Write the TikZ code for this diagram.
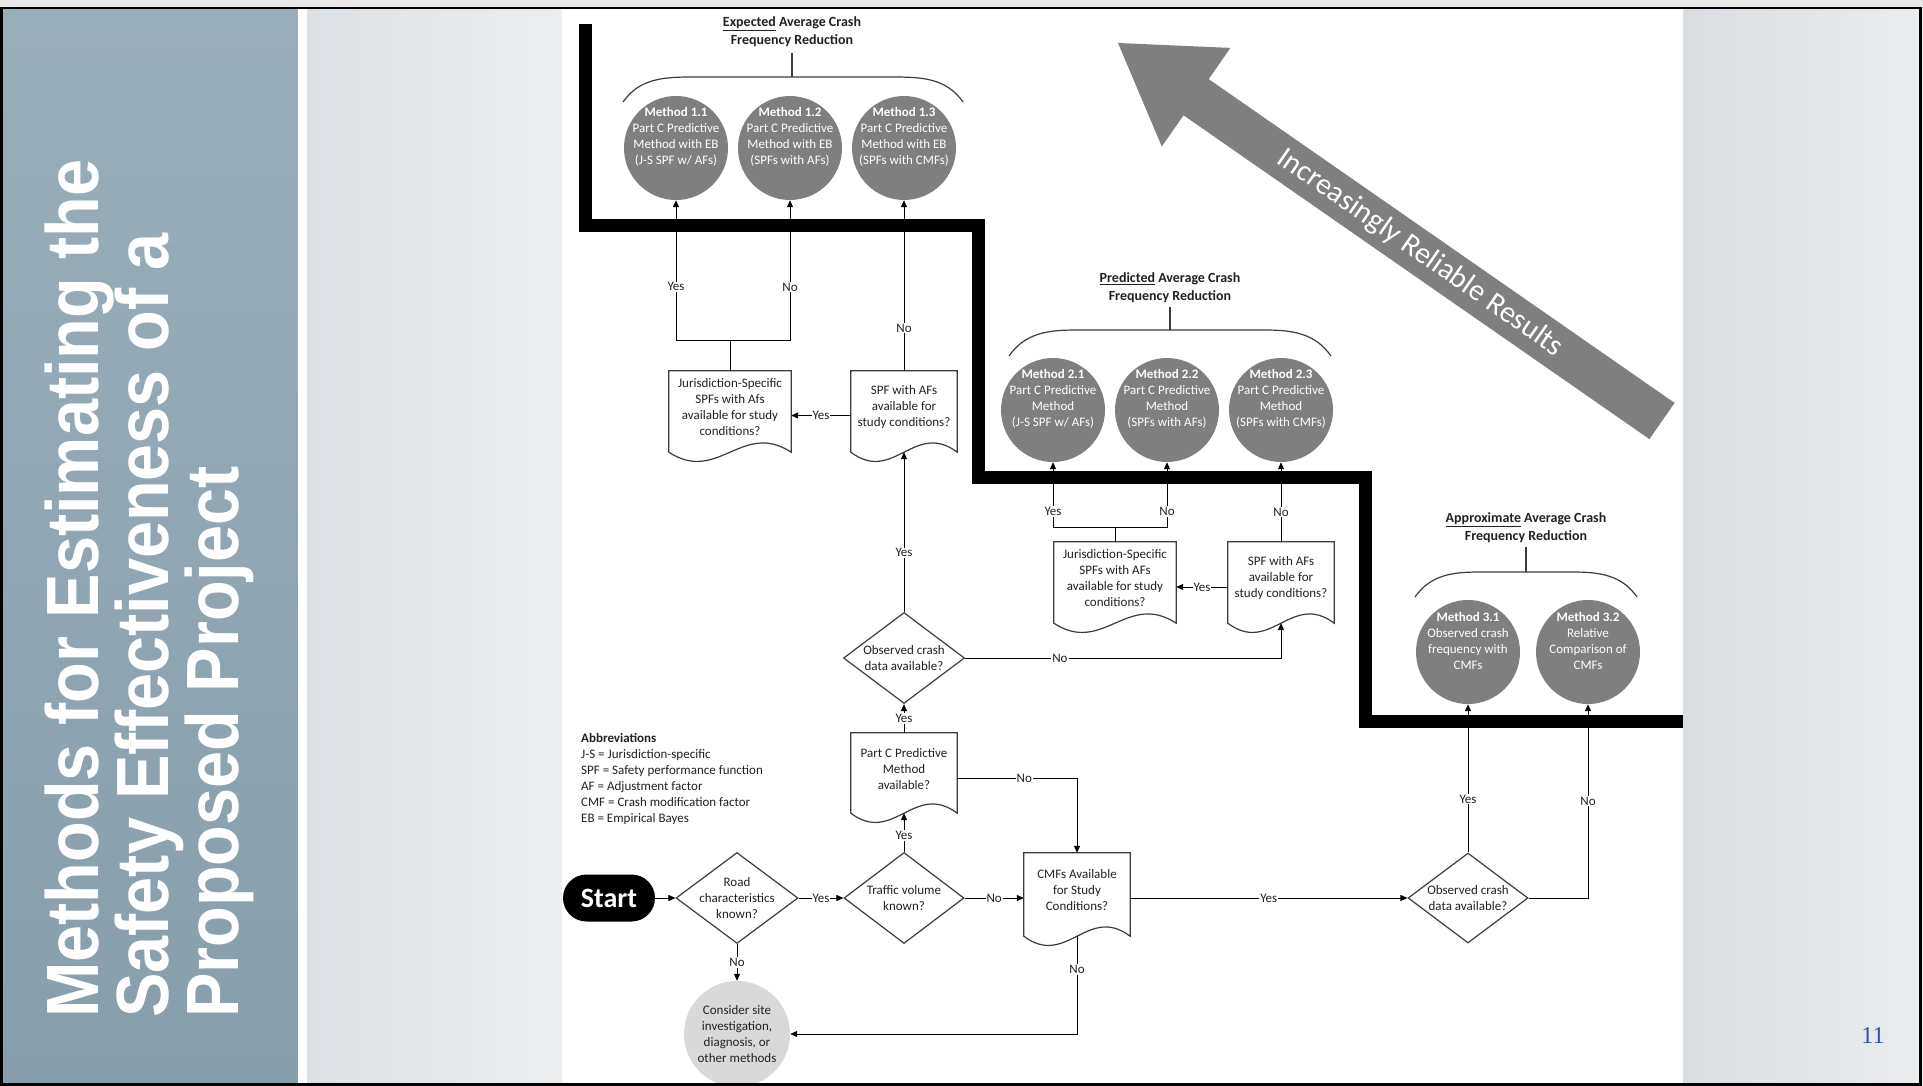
\documentclass[tikz,border=0pt]{standalone}
\usepackage{fontspec}
\setmainfont{Carlito}
\newfontfamily\titlefont{Liberation Sans}[FakeStretch=0.9]
\newfontfamily\numfont{Liberation Serif}
\usetikzlibrary{positioning,arrows.meta,shapes.geometric,calc}
\definecolor{panel}{HTML}{8FA5B2}
\definecolor{panelb}{HTML}{889EAB}
\definecolor{midl}{HTML}{DCE1E5}
\definecolor{midr}{HTML}{ECEEF0}
\definecolor{sidel}{HTML}{DADEE2}
\definecolor{sider}{HTML}{EAECEE}
\definecolor{txt}{HTML}{222222}
\definecolor{edge}{HTML}{3C3C3C}
\definecolor{methgray}{HTML}{7F7F7F}
\definecolor{ltgray}{HTML}{D9D9D9}
\definecolor{numblue}{HTML}{2F5597}
\newcommand{\bodyfont}{\fontsize{13}{16}\selectfont}
\newcommand{\headfont}{\fontsize{14}{18}\selectfont\bfseries}
% document outline with wavy bottom, drawn round a docbox node
\newcommand{\docframe}[1]{%
  \coordinate (#1-b) at ([yshift=-8pt]#1.south);
  \draw[docline] ([yshift=-8pt]#1.south east) -- (#1.north east) -- (#1.north west) -- ([yshift=-8pt]#1.south west)
    .. controls ($([yshift=-8pt]#1.south west)!0.4!([yshift=-8pt]#1.south east)+(0,32)$)
    and ($([yshift=-8pt]#1.south west)!0.6!([yshift=-8pt]#1.south east)+(0,-32)$) .. ([yshift=-8pt]#1.south east) -- cycle;}

\begin{document}
\begin{tikzpicture}[x=1pt,y=-1pt,
    docbox/.style={rectangle,inner sep=0pt,minimum height=73pt,align=center,font=\bodyfont,text=txt},
    docline/.style={draw=edge,line width=1.2pt},
    decide/.style={diamond,draw=edge,line width=1.2pt,inner sep=0pt,minimum width=121pt,minimum height=91pt},
    dtext/.style={align=center,font=\bodyfont,text=txt,inner sep=0pt},
    method/.style={circle,fill=methgray,minimum size=104pt,inner sep=0pt},
    mtext/.style={align=center,font=\bodyfont,text=white,inner sep=0pt,yshift=11pt},
    head/.style={align=center,font=\headfont,text=txt,inner sep=0pt},
    brace/.style={draw=edge,line width=1.2pt},
    arr/.style={-{Triangle[length=7pt,width=6pt]},line width=1pt},
    line/.style={line width=1pt},
    lbl/.style={font=\bodyfont,fill=white,inner sep=1pt,text=txt},
    stair/.style={line width=13pt},
  ]
  \useasboundingbox (0,0) rectangle (1923,1086);
  \clip (0,0) rectangle (1923,1086);
  % slide background
  \fill[ltgray!60] (0,0) rectangle (1923,8);
  \shade[top color=panel!90!white,bottom color=panelb] (0,8) rectangle (298,1086);
  \fill[white] (298,8) rectangle (307,1086);
  \shade[left color=midl,right color=midr] (307,8) rectangle (562,1086);
  \fill[white] (562,8) rectangle (1683,1086);
  \shade[left color=sidel,right color=sider] (1683,8) rectangle (1923,1086);
  \node[rotate=90,anchor=north west,align=left,inner sep=0pt,text=white,
    font=\titlefont\bfseries\fontsize{74}{70}\selectfont] (TT) at (45,1018)
    {Methods for Estimating the\\Safety Effectiveness of a\\Proposed Project};
  \node[font=\numfont\fontsize{24}{24}\selectfont,text=numblue] (PN) at (1873,1036) {11};

  % staircase
  \draw[stair] (585,24) |- (978,226) |- (1365,477) |- (1683,721);

  % reliability arrow
  \fill[methgray] (1118,43) -- (1230.4,47.9) -- (1208.7,79.1) -- (1674.6,402.9)
    -- (1649.4,439.1) -- (1183.5,115.3) -- (1161.8,146.5) -- cycle;
  \node[rotate=-34.8,font=\fontsize{30}{32}\selectfont,text=white] (IR) at (1420,253) {Increasingly Reliable Results};

  % expected
  \node[head] (TA) at (792,32) {\underline{Expected} Average Crash\\Frequency Reduction};
  \draw[brace] (792,53) -- (792,77);
  \draw[brace] (623,102) to[out=55,in=180] (693,77) -- (891,77) to[out=0,in=125] (963,102);
  \node[method,label={[mtext]center:{\textbf{Method 1.1}\\Part C Predictive\\Method with EB\\(J-S SPF w/ AFs)}}] (M11) at (676,148) {};
  \node[method,label={[mtext]center:{\textbf{Method 1.2}\\Part C Predictive\\Method with EB\\(SPFs with AFs)}}] (M12) at (790,148) {};
  \node[method,label={[mtext]center:{\textbf{Method 1.3}\\Part C Predictive\\Method with EB\\(SPFs with CMFs)}}] (M13) at (904,148) {};

  % predicted
  \node[head] (TB) at (1170,288) {\underline{Predicted} Average Crash\\Frequency Reduction};
  \draw[brace] (1170,307) -- (1170,330);
  \draw[brace] (1009,356) to[out=55,in=180] (1076,330) -- (1264,330) to[out=0,in=125] (1331,356);
  \node[method,label={[mtext]center:{\textbf{Method 2.1}\\Part C Predictive\\Method\\(J-S SPF w/ AFs)}}] (M21) at (1053,410) {};
  \node[method,label={[mtext]center:{\textbf{Method 2.2}\\Part C Predictive\\Method\\(SPFs with AFs)}}] (M22) at (1167,410) {};
  \node[method,label={[mtext]center:{\textbf{Method 2.3}\\Part C Predictive\\Method\\(SPFs with CMFs)}}] (M23) at (1281,410) {};

  % approximate
  \node[head] (TC) at (1526,528) {\underline{Approximate} Average Crash\\Frequency Reduction};
  \draw[brace] (1526,547) -- (1526,572);
  \draw[brace] (1415,597) to[out=55,in=180] (1480,572) -- (1572,572) to[out=0,in=125] (1637,597);
  \node[method,label={[mtext]center:{\textbf{Method 3.1}\\Observed crash\\frequency with\\CMFs}}] (M31) at (1468,652) {};
  \node[method,label={[mtext]center:{\textbf{Method 3.2}\\Relative\\Comparison of\\CMFs}}] (M32) at (1588,652) {};

  % questions
  \node[docbox,minimum width=122pt] (JA) at (730,407.5) {Jurisdiction-Specific\\SPFs with Afs\\available for study\\conditions?};
  \node[docbox,minimum width=106pt] (SA) at (904,407.5) {SPF with AFs\\available for\\study conditions?};
  \node[docbox,minimum width=122pt] (JB) at (1115,578.5) {Jurisdiction-Specific\\SPFs with AFs\\available for study\\conditions?};
  \node[docbox,minimum width=106pt] (SB) at (1281,578.5) {SPF with AFs\\available for\\study conditions?};
  \node[docbox,minimum width=106pt,minimum height=72pt] (PC) at (904,769) {Part C Predictive\\Method\\available?};
  \node[docbox,minimum width=106pt,minimum height=75pt] (CM) at (1077,890.5) {CMFs Available\\for Study\\Conditions?};
  \docframe{JA} \docframe{SA} \docframe{JB} \docframe{SB} \docframe{PC} \docframe{CM}
  \node[decide,label={[dtext]center:{Observed crash\\data available?}}] (OU) at (904,658) {};
  \node[decide,minimum width=122pt,label={[dtext]center:{Road\\characteristics\\known?}}] (RC) at (737,898) {};
  \node[decide,minimum width=120pt,label={[dtext]center:{Traffic volume\\known?}}] (TV) at (904,898) {};
  \node[decide,minimum width=120pt,minimum height=90pt,label={[dtext]center:{Observed crash\\data available?}}] (OL) at (1468,898) {};
  \node[rectangle,rounded corners=23.5pt,fill=black,text=white,font=\fontsize{28}{30}\selectfont\bfseries,
    minimum width=92pt,minimum height=47pt,inner sep=0pt] (ST) at (609,898) {Start};
  \node[circle,fill=ltgray,minimum size=106pt,inner sep=0pt,align=center,font=\bodyfont,text=txt] (CS) at (737,1034)
    {Consider site\\investigation,\\diagnosis, or\\other methods};
  \node[anchor=north west,align=left,font=\bodyfont,text=txt,inner sep=0pt] (AB) at (581,733)
    {\textbf{Abbreviations}\\J-S = Jurisdiction-specific\\SPF = Safety performance function\\AF = Adjustment factor\\CMF = Crash modification factor\\EB = Empirical Bayes};

  % connectors
  \coordinate (JAt) at (730,340);
  \coordinate (JBt) at (1115,527);
  \draw[line] (JA.north) -- (JAt);
  \draw[arr] (JAt) -| (M11.south) node[lbl,pos=0.69]{Yes};
  \draw[arr] (JAt) -| (M12.south) node[lbl,pos=0.69]{No};
  \draw[arr] (SA.north) -- (M13.south) node[lbl,pos=0.25]{No};
  \draw[arr] ([yshift=-8pt]SA.west) -- ([yshift=-8pt]JA.east) node[lbl,midway]{Yes};
  \draw[line] (JB.north) -- (JBt);
  \draw[arr] (JBt) -| (M21.south) node[lbl,pos=0.62]{Yes};
  \draw[arr] (JBt) -| (M22.south) node[lbl,pos=0.62]{No};
  \draw[arr] (SB.north) -- (M23.south) node[lbl,pos=0.375]{No};
  \draw[arr] ([yshift=-8.5pt]SB.west) -- ([yshift=-8.5pt]JB.east) node[lbl,midway]{Yes};
  \draw[arr] (OU.north) -- (SA-b) node[lbl,pos=0.37]{Yes};
  \draw[arr] (OU.east) -| (SB-b) node[lbl,pos=0.15]{No};
  \draw[arr] (PC.north) -- (OU.south) node[lbl,pos=0.5]{Yes};
  \draw[arr] ([yshift=-9pt]PC.east) -| (CM.north) node[lbl,pos=0.28]{No};
  \draw[arr] (TV.north) -- (PC-b) node[lbl,pos=0.42]{Yes};
  \draw[arr] (ST) -- (RC);
  \draw[arr] (RC) -- (TV) node[lbl,midway]{Yes};
  \draw[arr] (TV.east) -- (TV.east -| CM.west) node[lbl,midway]{No};
  \draw[arr] (RC.south) -- (CS.north) node[lbl,midway]{No};
  \draw[arr] (CM-b) |- (CS.east) node[lbl,pos=0.17]{No};
  \draw[arr] (OL.west -| CM.east) -- (OL.west) node[lbl,midway]{Yes};
  \draw[arr] (OL.north) -- (M31.south) node[lbl,pos=0.36]{Yes};
  \draw[arr] (OL.east) -| (M32.south) node[lbl,pos=0.75]{No};

  % slide frame
  \draw[line width=2.5pt] (1.25,8) rectangle (1920.5,1084.5);
\end{tikzpicture}
\end{document}
